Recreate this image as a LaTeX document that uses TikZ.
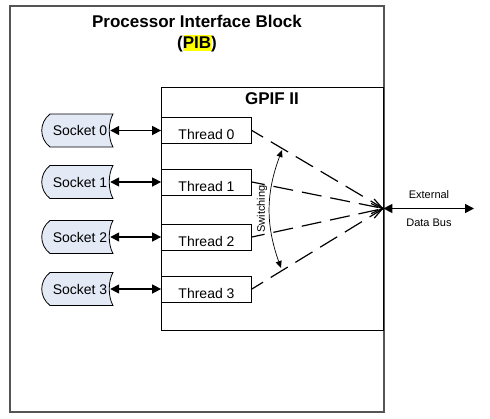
\documentclass[tikz,border=0pt]{standalone}
\usepackage{fontspec}
\setmainfont{Liberation Sans}
\usepackage{xcolor}
\definecolor{pibgray}{RGB}{85, 85, 85}
\definecolor{pibsock}{RGB}{227, 234, 246}
\definecolor{pibyellow}{RGB}{255, 255, 0}
\usetikzlibrary{arrows.meta, calc, backgrounds}

\tikzset{
    boxtitle/.style={font=\fontsize{17}{21}\selectfont\bfseries, align=center},
    thread/.style={draw, line width=0.8pt, minimum width=90pt, minimum height=26pt, inner sep=0pt},
    threadlbl/.style={font=\fontsize{14}{16}\selectfont, yshift=-4pt},
    socket/.style={font=\fontsize{14}{16}\selectfont, minimum width=60pt, minimum height=33pt, inner sep=0pt},
    sockshape/.style={draw, line width=0.8pt, fill=pibsock},
    link/.style={<->, line width=1.5pt},
    swline/.style={line width=1.2pt, dash pattern=on 20pt off 9pt, dash phase=7pt},
    smalllbl/.style={font=\fontsize{11}{13}\selectfont}
}

\begin{document}
\begin{tikzpicture}[x=1pt, y=-1pt, >={Triangle[length=9pt, width=9pt]}]
\useasboundingbox (0,0) rectangle (490,418);

% === Bloque PIB ===
\draw[pibgray, line width=1.2pt] (10,6) rectangle (384,412);
\node[boxtitle] (pibtitle) at (197,33.5)
    {Processor Interface Block\\(\setlength{\fboxsep}{0pt}\colorbox{pibyellow}{\rule[-3pt]{0pt}{16pt}PIB})};

% === Bloque GPIF II ===
\node[draw, line width=0.8pt, minimum width=222pt, minimum height=243pt] (gpif) at (272,208.5) {};
\node[boxtitle] (gpiftitle) at (272,99) {GPIF II};

% === Sockets y threads ===
\foreach \i/\y in {0/130.5, 1/182, 2/237, 3/289} {
    \node[socket] (s\i) at (80,\y) {Socket \i};
    \node[thread, label={[threadlbl]center:Thread \i}] (t\i) at (206.5,\y) {};
    \draw[link] (s\i.east) -- (t\i.west);
}

% Forma de los sockets (detras del texto)
\begin{scope}[on background layer]
\foreach \i in {0,...,3} {
    \draw[sockshape]
        ($(s\i)+(-30,-16.5)$) -- ($(s\i)+(33,-16.5)$)
        .. controls ($(s\i)+(28,-8)$) and ($(s\i)+(28,8)$) .. ($(s\i)+(33,16.5)$)
        -- ($(s\i)+(-30,16.5)$)
        .. controls ($(s\i)+(-41,8)$) and ($(s\i)+(-41,-8)$) .. cycle;
}
\end{scope}

% === Conmutacion hacia el bus ===
\draw[swline] (t0.east) -- (gpif.east);
\draw[swline, -{Straight Barb[length=10pt, width=15pt]}] (t1.east) -- (gpif.east);
\draw[swline, -{Straight Barb[length=10pt, width=15pt]}] (t2.east) -- (gpif.east);
\draw[swline] (t3.east) -- (gpif.east);

\coordinate (swtop) at (282,150);
\coordinate (swbot) at (281,268);
\draw[{Triangle[length=7pt, width=6pt]}-{Triangle[length=7pt, width=6pt]}, line width=0.7pt]
    (swtop) to[bend right=20] (swbot);
\node[smalllbl, rotate=90] (swtxt) at (262,209) {Switching};

% === Bus de datos externo ===
\coordinate (busend) at (474,208.5);
\draw[link] (gpif.east) -- (busend);
\node[smalllbl] (busup) at (429,195) {External};
\node[smalllbl] (busdown) at (429,223) {Data Bus};

\end{tikzpicture}
\end{document}
